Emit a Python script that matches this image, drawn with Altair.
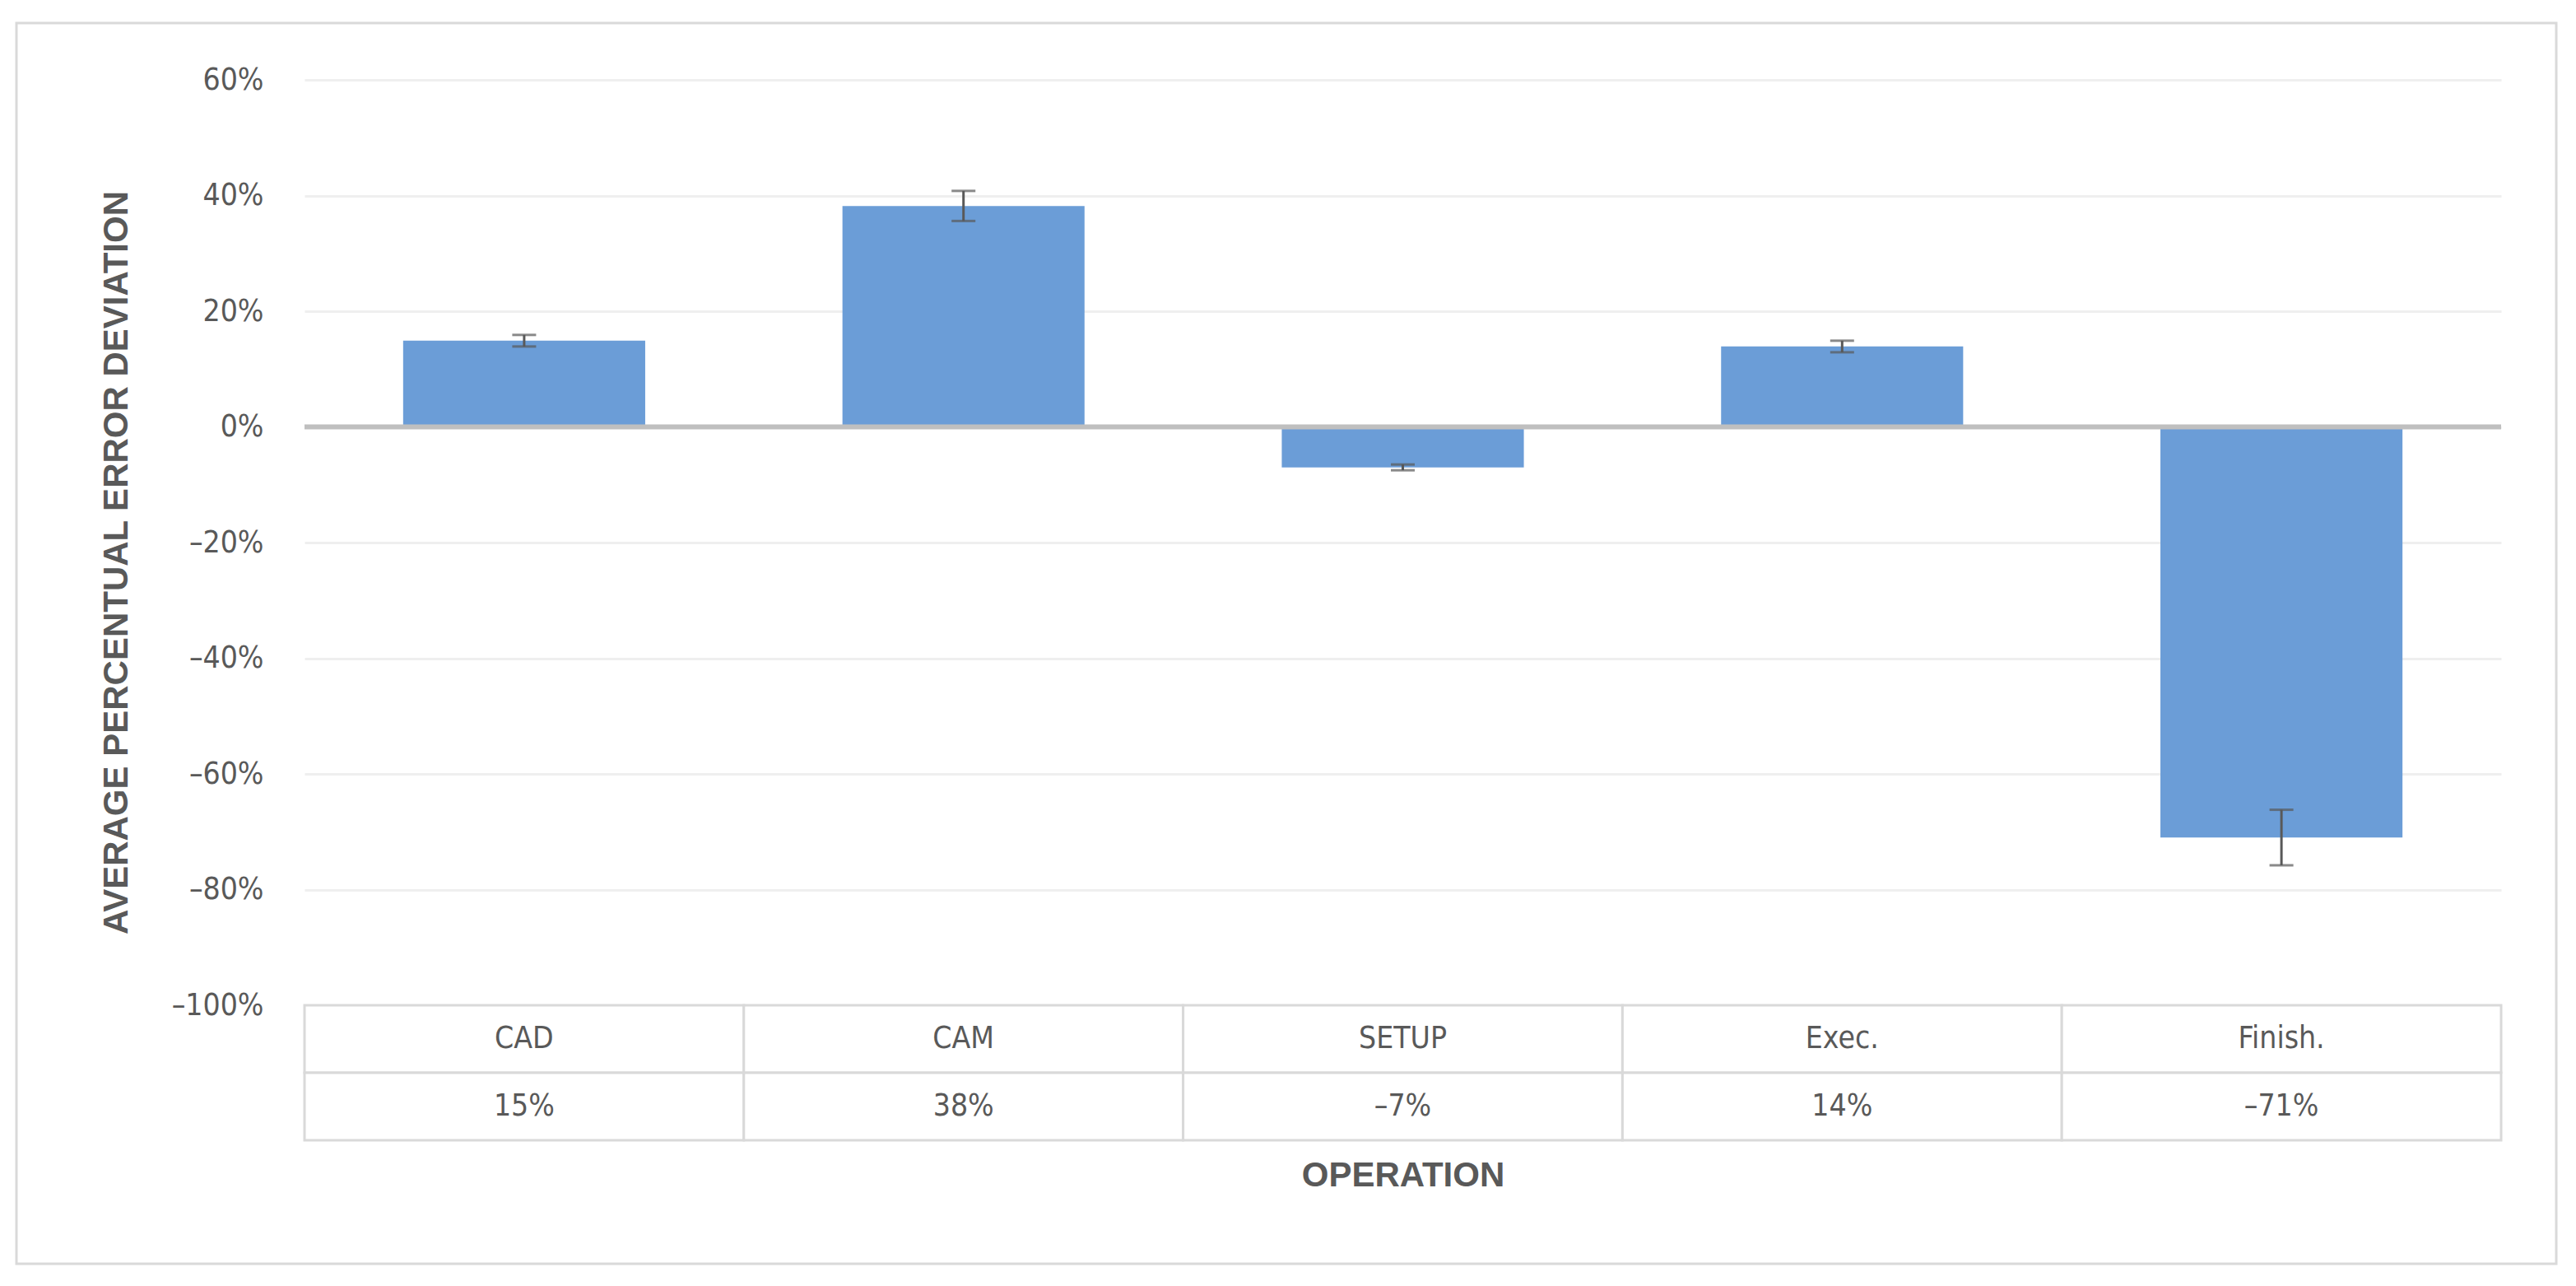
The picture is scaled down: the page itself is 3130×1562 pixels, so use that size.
import altair as alt
import pandas as pd

# ---- data ----
operations = ["CAD", "CAM", "SETUP", "Exec.", "Finish."]
mean_dev = [14.9, 38.2, -7.0, 13.9, -71.0]      # average percentual error deviation (%)
err = [1.0, 2.6, 0.5, 1.0, 4.8]                  # error bar half-length (%)
table_labels = ["15%", "38%", "\u20137%", "14%", "\u201371%"]
y_ticks = [-100, -80, -60, -40, -20, 0, 20, 40, 60]

Y_TITLE = "AVERAGE PERCENTUAL ERROR DEVIATION"
X_TITLE = "OPERATION"

TEXT = "#595959"
LABEL_FONT = "Liberation Sans Narrow, DejaVu Sans Condensed, Roboto Condensed, Roboto, sans-serif"
TITLE_FONT = "Liberation Sans, Arial, sans-serif"

W = 2669
H_TOP = 1124
H_TAB = 164

df = pd.DataFrame({
    "op": operations,
    "dev": mean_dev,
    "lo": [m - e for m, e in zip(mean_dev, err)],
    "hi": [m + e for m, e in zip(mean_dev, err)],
})

yscale = alt.Scale(domain=[-100, 60], nice=False, zero=False)
yaxis = alt.Axis(
    values=y_ticks,
    labelExpr="(datum.value < 0 ? '\u2013' : '') + abs(datum.value) + '%'",
    grid=True, gridColor="#EFEFEF", gridWidth=3,
    ticks=False, domain=False,
    labelFont=LABEL_FONT, labelFontSize=37, labelColor=TEXT, labelPadding=50,
    title=Y_TITLE, titleFont=TITLE_FONT, titleFontSize=42, titleFontWeight="bold",
    titleColor=TEXT, titleX=-216, titleY=586, titleBaseline="alphabetic",
)
xenc = alt.X("op:N", sort=operations, axis=None,
             scale=alt.Scale(paddingInner=0.449, paddingOuter=0.2245))

base = alt.Chart(df)

bars = base.mark_bar(color="#6B9DD7").encode(
    x=xenc,
    y=alt.Y("dev:Q", scale=yscale, axis=yaxis, title=Y_TITLE),
)

zero_line = alt.Chart(pd.DataFrame({"z": [0]})).mark_rule(
    color="#BFBFBF", strokeWidth=6
).encode(y=alt.Y("z:Q", scale=yscale, axis=yaxis, title=Y_TITLE))

err_rule = base.mark_rule(color="#595959", strokeWidth=3).encode(
    x=xenc,
    y=alt.Y("lo:Q", scale=yscale, axis=yaxis, title=Y_TITLE),
    y2="hi:Q",
)
cap_lo = base.mark_tick(color="#595959", thickness=3, size=29, orient="horizontal").encode(
    x=xenc, y=alt.Y("lo:Q", scale=yscale, axis=yaxis, title=Y_TITLE)
)
cap_hi = base.mark_tick(color="#595959", thickness=3, size=29, orient="horizontal").encode(
    x=xenc, y=alt.Y("hi:Q", scale=yscale, axis=yaxis, title=Y_TITLE)
)

frame = alt.Chart(pd.DataFrame({"f": [0]})).mark_rect(
    fillOpacity=0, stroke="#D9D9D9", strokeWidth=3
).encode(
    x=alt.value(-350), x2=alt.value(2736), y=alt.value(-69), y2=alt.value(1438)
)

top = alt.layer(frame, bars, err_rule, cap_lo, cap_hi, zero_line).properties(
    width=W, height=H_TOP
)

# ---- data table under the plot ----
rows = []
for op, lab in zip(operations, table_labels):
    rows.append({"op": op, "row": "name", "text": op})
    rows.append({"op": op, "row": "value", "text": lab})
tdf = pd.DataFrame(rows)

tx = alt.X("op:N", sort=operations,
           scale=alt.Scale(paddingInner=0, paddingOuter=0),
           axis=alt.Axis(labels=False, ticks=False, domain=False, grid=False,
                         title=X_TITLE, titleFont=TITLE_FONT, titleFontSize=42,
                         titleFontWeight="bold", titleColor=TEXT, titlePadding=22))
ty = alt.Y("row:N", sort=["name", "value"], axis=None,
           scale=alt.Scale(paddingInner=0, paddingOuter=0))

cells = alt.Chart(tdf).mark_rect(fill="white", stroke="#D9D9D9", strokeWidth=3).encode(
    x=tx, y=ty
)
cell_text = alt.Chart(tdf).mark_text(
    font=LABEL_FONT, fontSize=37, color=TEXT
).encode(x=tx, y=ty, text="text:N")

table = alt.layer(cells, cell_text).properties(width=W, height=H_TAB)

chart = alt.vconcat(top, table, spacing=0, bounds="flush").properties(
    padding={"left": 10, "top": 18, "right": 10, "bottom": 10},
    background="white",
).configure_view(strokeWidth=0)

chart.save("out.html", embed_options={"renderer": "svg", "actions": False})
